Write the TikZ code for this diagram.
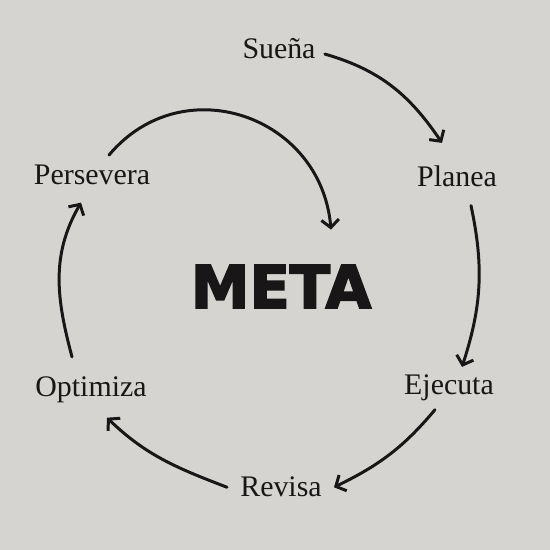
\documentclass[tikz,border=0pt]{standalone}
\usepackage{fontspec}
\setmainfont{Liberation Serif}
\newfontfamily\metafont[FakeBold=3]{DejaVu Sans Bold}
\usepackage{tikz}
\usetikzlibrary{arrows.meta}
\definecolor{WallGray}{RGB}{214,212,208}
\definecolor{InkBlack}{RGB}{24,22,22}

\begin{document}
\begin{tikzpicture}[x=0.02cm, y=0.02cm,
		step label/.style={anchor=base, inner sep=0pt, text=InkBlack, font=\fontsize{17}{20}\selectfont},
		cycle arrow/.style={draw=InkBlack, line width=1.7pt, line cap=round, -{Straight Barb[length=4.5pt, width=10pt]}}]
		\fill[WallGray] (0,0) rectangle (550,550);
		\useasboundingbox (0,0) rectangle (550,550);
		\node[step label] (suena) at (279,491) {Sueña};
		\node[step label] (planea) at (457,363) {Planea};
		\node[step label] (ejecuta) at (449,155) {Ejecuta};
		\node[step label] (revisa) at (281,53) {Revisa};
		\node[step label] (optimiza) at (91,153) {Optimiza};
		\node[step label] (persevera) at (92,365) {Persevera};
		\node[anchor=base, inner sep=0pt, text=InkBlack, font=\metafont\fontsize{33.6}{36}\selectfont] (meta) at (281,242) {META};
		\draw[cycle arrow] ([shift={(9,-5)}]suena.east) to[out=-16, in=124] ([shift={(-15,23)}]planea.north);
		\draw[cycle arrow] ([shift={(14,-18)}]planea.south) to[out=-78, in=72] ([shift={(13,8)}]ejecuta.north);
		\draw[cycle arrow] ([shift={(-14,-8)}]ejecuta.south) to[out=-130, in=26] ([shift={(12,0)}]revisa.east);
		\draw[cycle arrow] ([shift={(-13,0)}]revisa.west) to[out=159, in=-44] ([shift={(16,-14)}]optimiza.south);
		\draw[cycle arrow] ([shift={(-19,20)}]optimiza.north) to[out=105, in=-120] ([shift={(-11,-17)}]persevera.south);
		\draw[cycle arrow] ([shift={(17,10)}]persevera.north) to[out=50, in=95, looseness=1.25] ([shift={(50,35)}]meta.north);
	\end{tikzpicture}
\end{document}
